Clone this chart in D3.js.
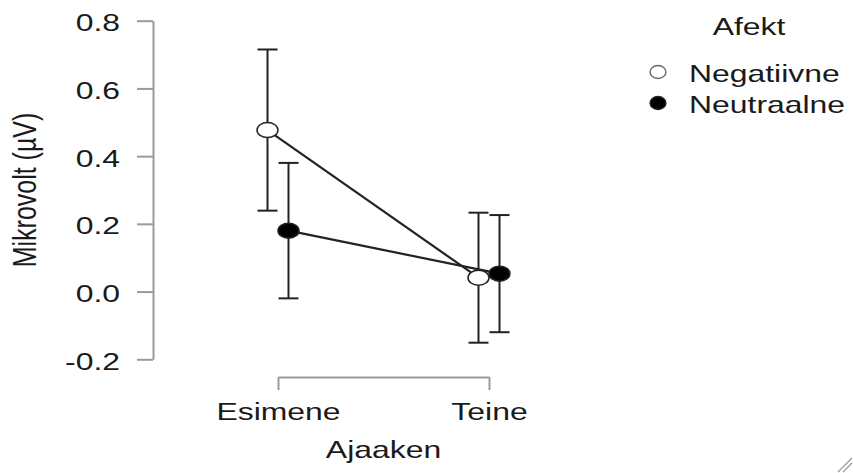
<!DOCTYPE html>
<html>
<head>
<meta charset="utf-8">
<script src="https://cdn.jsdelivr.net/npm/d3@7"></script>
<style>
  html, body { margin: 0; padding: 0; background: #fff; }
  svg { display: block; }
  text { font-family: "Liberation Sans", Arial, sans-serif; fill: #1a1a1a; }
</style>
</head>
<body>
<svg id="chart" width="853" height="473"></svg>
<script>
// Mean amplitude with error bars by time window (Ajaaken) and affect (Afekt)
const categories = ["Esimene", "Teine"];
const groups = ["Negatiivne", "Neutraalne"];
const negMean = [0.477, 0.041];
const negErr  = [0.238, 0.192];
const neuMean = [0.180, 0.053];
const neuErr  = [0.200, 0.173];
const yTicks = [-0.2, 0.0, 0.2, 0.4, 0.6, 0.8];

const series = [
  { name: groups[0], mean: negMean, err: negErr, fill: "#fff" },
  { name: groups[1], mean: neuMean, err: neuErr, fill: "#000" }
];

const SX = 1.33;          // horizontal text stretch
const FONT = 24;
const ink = "#222";

const svg = d3.select("#chart");

const x = d3.scalePoint().domain(categories).range([278, 489]);
const dodge = d3.scalePoint().domain(groups).range([-10.5, 10.5]);
const y = d3.scaleLinear().domain([-0.2, 0.8]).range([359.3, 20.7]);

function stretchText(sel) {
  sel.each(function () {
    const t = d3.select(this);
    const tx = +t.attr("x") || 0;
    const ty = +t.attr("y") || 0;
    t.attr("x", 0).attr("y", 0)
     .attr("transform", `translate(${tx},${ty}) scale(${SX},1)`);
  });
}

// y axis
const yAxis = svg.append("g")
  .attr("transform", "translate(153,0)")
  .call(d3.axisLeft(y).tickValues(yTicks).tickFormat(d3.format(".1f"))
        .tickSize(16).tickSizeOuter(0).tickPadding(17));
yAxis.selectAll("path, line").attr("stroke", "#9a9a9a").attr("stroke-width", 2);
yAxis.selectAll("text")
  .style("font-size", FONT + "px").attr("dy", "0.42em")
  .text(d => d < 0 ? "-" + Math.abs(d).toFixed(1) : d.toFixed(1))
  .call(stretchText);

// x axis
const xAxis = svg.append("g")
  .attr("transform", "translate(0,377)")
  .call(d3.axisBottom(x).tickSize(13).tickSizeOuter(0).tickPadding(13));
xAxis.selectAll("path, line").attr("stroke", "#9a9a9a").attr("stroke-width", 2);
xAxis.selectAll("text")
  .style("font-size", FONT + "px").attr("dy", "0.71em")
  .call(stretchText);

// axis titles
svg.append("text")
  .attr("transform", `translate(${(x.range()[0] + x.range()[1]) / 2},458) scale(${SX},1)`)
  .attr("text-anchor", "middle").style("font-size", FONT + "px")
  .text("Ajaaken");
svg.append("text")
  .attr("transform", `translate(36,${(y(0.8) + y(-0.2)) / 2}) scale(${SX},1) rotate(-90)`)
  .attr("text-anchor", "middle").style("font-size", "25px")
  .text("Mikrovolt (µV)");

// error bars
const cap = 10;
series.forEach(s => {
  const g = svg.append("g").attr("stroke", ink).attr("stroke-width", 2);
  categories.forEach((c, i) => {
    const cx = x(c) + dodge(s.name);
    const lo = y(s.mean[i] - s.err[i]), hi = y(s.mean[i] + s.err[i]);
    g.append("line").attr("x1", cx).attr("x2", cx).attr("y1", lo).attr("y2", hi);
    g.append("line").attr("x1", cx - cap).attr("x2", cx + cap).attr("y1", lo).attr("y2", lo);
    g.append("line").attr("x1", cx - cap).attr("x2", cx + cap).attr("y1", hi).attr("y2", hi);
  });
});

// connecting lines
const line = d3.line().x(d => d.x).y(d => d.y);
series.forEach(s => {
  const pts = categories.map((c, i) => ({ x: x(c) + dodge(s.name), y: y(s.mean[i]) }));
  svg.append("path").attr("d", line(pts))
    .attr("fill", "none").attr("stroke", ink).attr("stroke-width", 2.2);
});

// points
series.forEach(s => {
  svg.append("g").selectAll("ellipse")
    .data(categories.map((c, i) => ({ c, v: s.mean[i] })))
    .join("ellipse")
    .attr("cx", d => x(d.c) + dodge(s.name))
    .attr("cy", d => y(d.v))
    .attr("rx", 10.5).attr("ry", 7.5)
    .attr("fill", s.fill).attr("stroke", ink).attr("stroke-width", 1.5);
});

// legend
const legend = svg.append("g");
legend.append("text")
  .attr("transform", `translate(749,35) scale(${SX},1)`)
  .attr("text-anchor", "middle").style("font-size", FONT + "px")
  .text("Afekt");
series.forEach((s, i) => {
  const base = 82 + i * 31;
  legend.append("ellipse")
    .attr("cx", 658).attr("cy", base - 10)
    .attr("rx", 8).attr("ry", 6.5)
    .attr("fill", s.fill).attr("stroke", i === 0 ? "#666" : ink).attr("stroke-width", 1.3);
  legend.append("text")
    .attr("transform", `translate(689,${base}) scale(${SX},1)`)
    .style("font-size", FONT + "px")
    .text(s.name);
});

// window resize grip in the corner
const grip = svg.append("g").attr("stroke", "#9a9a9a").attr("stroke-width", 1.3);
[[838, 472, 852, 458], [843, 472, 852, 463]].forEach(([x1, y1, x2, y2]) => {
  grip.append("line").attr("x1", x1).attr("y1", y1).attr("x2", x2).attr("y2", y2);
});
</script>
</body>
</html>
